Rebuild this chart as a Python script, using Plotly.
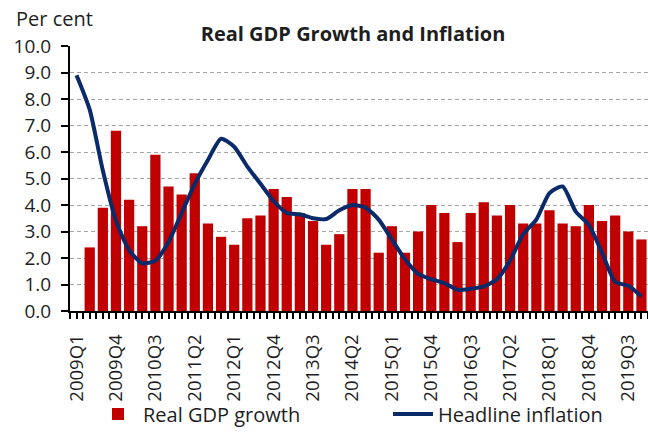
import plotly.graph_objects as go

# Quarterly categories, 2009Q1 - 2019Q4
quarters = [
    "2009Q1", "2009Q2", "2009Q3", "2009Q4",
    "2010Q1", "2010Q2", "2010Q3", "2010Q4",
    "2011Q1", "2011Q2", "2011Q3", "2011Q4",
    "2012Q1", "2012Q2", "2012Q3", "2012Q4",
    "2013Q1", "2013Q2", "2013Q3", "2013Q4",
    "2014Q1", "2014Q2", "2014Q3", "2014Q4",
    "2015Q1", "2015Q2", "2015Q3", "2015Q4",
    "2016Q1", "2016Q2", "2016Q3", "2016Q4",
    "2017Q1", "2017Q2", "2017Q3", "2017Q4",
    "2018Q1", "2018Q2", "2018Q3", "2018Q4",
    "2019Q1", "2019Q2", "2019Q3", "2019Q4",
]

# Real GDP growth, per cent (no figure for 2009Q1)
gdp_growth = [
    None, 2.4, 3.9, 6.8,
    4.2, 3.2, 5.9, 4.7,
    4.4, 5.2, 3.3, 2.8,
    2.5, 3.5, 3.6, 4.6,
    4.3, 3.7, 3.4, 2.5,
    2.9, 4.6, 4.6, 2.2,
    3.2, 2.2, 3.0, 4.0,
    3.7, 2.6, 3.7, 4.1,
    3.6, 4.0, 3.3, 3.3,
    3.8, 3.3, 3.2, 4.0,
    3.4, 3.6, 3.0, 2.7,
]

# Headline inflation, per cent
inflation = [
    8.9, 7.6, 5.3, 3.4,
    2.3, 1.8, 1.9, 2.6,
    3.7, 4.8, 5.7, 6.5,
    6.2, 5.45, 4.8, 4.15,
    3.7, 3.65, 3.5, 3.47,
    3.8, 4.0, 3.9, 3.45,
    2.7, 1.95, 1.4, 1.2,
    1.05, 0.8, 0.84, 0.93,
    1.2, 1.9, 2.9, 3.45,
    4.45, 4.7, 3.75, 3.25,
    2.2, 1.1, 0.95, 0.55,
]

# Every third quarter is labelled on the axis
label_step = 3
y_ticks = [0, 1, 2, 3, 4, 5, 6, 7, 8, 9, 10]

FONT = "Open Sans"
TEXT = "#1e1e1e"
RED = "#c00000"
NAVY = "#0a2a6a"

pos = list(range(len(quarters)))

fig = go.Figure()
fig.add_trace(go.Bar(
    x=pos, y=gdp_growth, name="Real GDP growth",
    marker=dict(color=RED, line=dict(width=0)),
    legend="legend",
))
fig.add_trace(go.Scatter(
    x=pos, y=inflation, name="Headline inflation", mode="lines",
    line=dict(color=NAVY, width=4, shape="spline", smoothing=0.6),
    legend="legend2",
))

legend_common = dict(
    orientation="h",
    xref="container", yref="container",
    xanchor="left", y=1 - 414 / 435, yanchor="middle",
    font=dict(family=FONT, size=20, color=TEXT),
    itemwidth=40,
    bgcolor="rgba(0,0,0,0)",
)

fig.update_layout(
    width=648, height=435,
    margin=dict(l=70, r=0, t=46, b=124, autoexpand=False),
    paper_bgcolor="white", plot_bgcolor="white",
    bargap=0.22,
    font=dict(family=FONT, color=TEXT),
    title=dict(
        text="<b>Real GDP Growth and Inflation</b>",
        font=dict(family=FONT, size=20, color=TEXT),
        x=353 / 648, xref="container", xanchor="center",
        y=1 - 34 / 435, yref="container", yanchor="middle",
    ),
    showlegend=True,
    legend=dict(legend_common, x=93 / 648),
    legend2=dict(legend_common, x=388 / 648),
    annotations=[dict(
        text="Per cent", xref="paper", yref="paper",
        x=-56 / 578, y=1 + 28 / 265, xanchor="left", yanchor="middle",
        showarrow=False, font=dict(family=FONT, size=20, color=TEXT),
    )],
)

fig.update_xaxes(
    automargin=False,
    range=[-0.5, len(quarters) - 0.5],
    tickmode="array",
    tickvals=pos[::label_step],
    ticktext=quarters[::label_step],
    tickangle=-90,
    tickfont=dict(family=FONT, size=18.5, color=TEXT),
    showline=True, linecolor="black", linewidth=2,
    ticks="outside", ticklen=6, tickwidth=2, tickcolor="black",
    ticklabelstandoff=8,
    minor=dict(dtick=0.5, tick0=-0.5, ticks="outside", ticklen=6,
               tickwidth=2, tickcolor="black", showgrid=False),
    showgrid=False, zeroline=False,
)

fig.update_yaxes(
    automargin=False,
    range=[0, 10],
    tickmode="array", tickvals=y_ticks,
    tickformat=".1f",
    tickfont=dict(family=FONT, size=19, color=TEXT),
    showline=True, linecolor="black", linewidth=2,
    ticks="outside", ticklen=7, tickwidth=2, tickcolor="black",
    ticklabelstandoff=6,
    showgrid=True, gridcolor="#a6a6a6", gridwidth=1, griddash="4px,3px",
    zeroline=False,
)

fig.write_html("out.html")
